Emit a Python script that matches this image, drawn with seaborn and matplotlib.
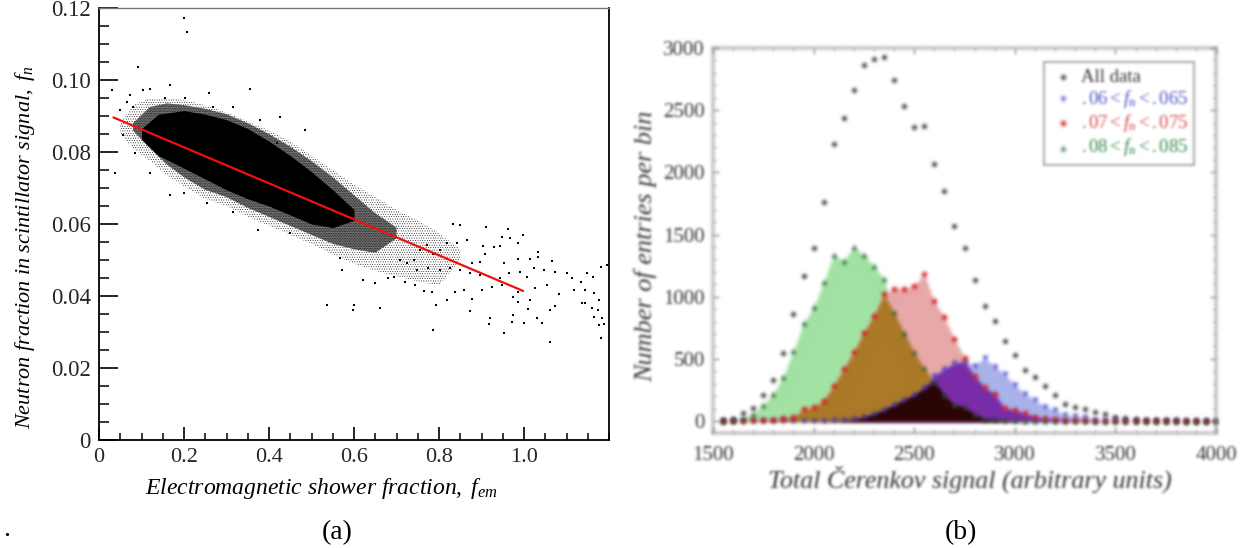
import numpy as np
import seaborn as sns
import matplotlib
matplotlib.use("Agg")
import matplotlib.pyplot as plt
from matplotlib.ticker import MultipleLocator, FixedLocator

sns.set_theme(style="white")
plt.rcParams["font.family"] = ["Liberation Serif", "DejaVu Serif"]
plt.rcParams["mathtext.fontset"] = "custom"
plt.rcParams["mathtext.rm"] = "Liberation Serif"
plt.rcParams["mathtext.it"] = "Liberation Serif:italic"
plt.rcParams["mathtext.bf"] = "Liberation Serif:bold"
plt.rcParams["hatch.linewidth"] = 0.3

# panel (a): the dense cloud read as envelopes, the loose points one by one
sparse_x = [0.05, 0.08, 0.12, 0.16, 0.20, 0.25, 0.30, 0.35, 0.40, 0.45, 0.50, 0.55, 0.60, 0.65, 0.70, 0.75, 0.80, 0.85]
sparse_hi = [0.0880, 0.0930, 0.0950, 0.0950, 0.0945, 0.0930, 0.0910, 0.0885, 0.0860, 0.0830, 0.0790, 0.0750, 0.0710, 0.0675, 0.0640, 0.0610, 0.0575, 0.0530]
sparse_lo = [0.0850, 0.0810, 0.0775, 0.0735, 0.0705, 0.0670, 0.0650, 0.0620, 0.0595, 0.0570, 0.0545, 0.0515, 0.0490, 0.0470, 0.0455, 0.0440, 0.0430, 0.0500]
dense_x = [0.08, 0.12, 0.16, 0.20, 0.25, 0.30, 0.35, 0.40, 0.45, 0.50, 0.55, 0.60, 0.65, 0.70]
dense_hi = [0.0880, 0.0925, 0.0935, 0.0930, 0.0920, 0.0905, 0.0880, 0.0850, 0.0815, 0.0775, 0.0730, 0.0680, 0.0630, 0.0590]
dense_lo = [0.0860, 0.0810, 0.0765, 0.0730, 0.0695, 0.0675, 0.0645, 0.0620, 0.0595, 0.0570, 0.0545, 0.0530, 0.0520, 0.0560]
core_x = [0.10, 0.14, 0.20, 0.25, 0.30, 0.35, 0.40, 0.45, 0.50, 0.55, 0.60]
core_hi = [0.0865, 0.0905, 0.0915, 0.0905, 0.0890, 0.0865, 0.0830, 0.0790, 0.0745, 0.0695, 0.0640]
core_lo = [0.0835, 0.0790, 0.0755, 0.0725, 0.0695, 0.0670, 0.0650, 0.0625, 0.0600, 0.0590, 0.0610]

loose_x = [0.834, 0.850, 0.911, 0.962, 0.997, 0.948, 0.968, 0.987, 0.903, 0.944, 0.929, 0.909, 1.032, 1.032, 1.015, 1.066,
           0.985, 0.952, 0.897, 0.878, 0.842, 0.866, 0.819, 0.803, 0.787, 0.772, 0.756, 0.740, 0.725, 0.709, 0.748, 0.775,
           0.803, 0.827, 0.850, 0.874, 0.897, 0.921, 0.944, 0.964, 0.991, 1.007, 1.023, 1.046, 1.074, 1.101, 1.148, 1.133,
           1.113, 1.163, 1.196, 1.180, 1.054, 1.027, 1.015, 0.987, 0.973, 0.948, 0.925, 0.901, 0.878, 0.858, 0.838, 0.819,
           0.794, 0.783, 0.764, 0.744, 0.721, 0.693, 0.681, 0.650, 0.622, 0.571, 0.568, 0.536, 0.597, 0.660, 0.785, 0.874,
           0.921, 0.917, 0.973, 0.972, 0.999, 0.954, 1.009, 1.062, 1.074, 1.042, 1.031, 1.062, 1.117, 1.144, 1.082, 1.164,
           1.176, 1.137, 1.144, 1.160, 1.173, 1.164, 1.184, 1.189, 1.176, 1.182, 0.985, 0.199, 0.207, 0.091, 0.167, 0.031,
           0.258, 0.356, 0.104, 0.120, 0.073, 0.203, 0.155, 0.081, 0.057, 0.038, 0.167, 0.375, 0.426, 0.485, 0.418, 0.085,
           0.120, 0.199, 0.254, 0.316, 0.450, 0.065, 0.050, 0.269, 0.316, 0.379, 0.600]
loose_y = [0.0600, 0.0597, 0.0592, 0.0585, 0.0569, 0.0565, 0.0560, 0.0546, 0.0539, 0.0539, 0.0535, 0.0518, 0.0523, 0.0509, 0.0503, 0.0498,
           0.0504, 0.0491, 0.0495, 0.0491, 0.0546, 0.0555, 0.0546, 0.0528, 0.0518, 0.0542, 0.0528, 0.0500, 0.0491, 0.0500, 0.0472, 0.0477,
           0.0472, 0.0477, 0.0472, 0.0463, 0.0458, 0.0454, 0.0449, 0.0463, 0.0467, 0.0454, 0.0477, 0.0472, 0.0467, 0.0465, 0.0463, 0.0440,
           0.0449, 0.0452, 0.0486, 0.0481, 0.0430, 0.0421, 0.0389, 0.0412, 0.0398, 0.0430, 0.0426, 0.0417, 0.0393, 0.0417, 0.0412, 0.0389,
           0.0375, 0.0412, 0.0415, 0.0430, 0.0440, 0.0454, 0.0449, 0.0435, 0.0444, 0.0472, 0.0505, 0.0375, 0.0361, 0.0366, 0.0305, 0.0358,
           0.0338, 0.0321, 0.0347, 0.0327, 0.0324, 0.0296, 0.0363, 0.0361, 0.0372, 0.0326, 0.0338, 0.0273, 0.0418, 0.0417, 0.0405, 0.0409,
           0.0389, 0.0380, 0.0381, 0.0368, 0.0361, 0.0342, 0.0338, 0.0322, 0.0319, 0.0284, 0.0384, 0.1171, 0.1134, 0.1037, 0.0986, 0.0972,
           0.0963, 0.0974, 0.0972, 0.0974, 0.0958, 0.0951, 0.0949, 0.0926, 0.0847, 0.0741, 0.0681, 0.0583, 0.0898, 0.0861, 0.0824, 0.0796,
           0.0741, 0.0685, 0.0657, 0.0634, 0.0574, 0.0940, 0.0917, 0.0926, 0.0926, 0.0889, 0.0375]

fit_x = [0.034, 0.998]
fit_y = [0.0896, 0.0414]

# panel (b): entries per 50-unit bin, first bin at 1550
first_bin, last_bin, bin_step = 1550, 4000, 50
all_counts = [5, 13, 62, 102, 210, 330, 545, 860, 1163, 1390, 1758, 2230, 2434, 2663, 2865, 2914, 2927, 2739, 2531, 2367,
              2375, 2071, 1847, 1567, 1390, 1137, 927, 808, 645, 532, 411, 357, 282, 212, 137, 115, 97, 75, 56, 35,
              25, 18, 12, 10, 6, 5, 4, 3, 2, 1]
green_counts = [3, 10, 25, 60, 130, 218, 358, 567, 785, 914, 1116, 1336, 1288, 1398, 1336, 1245, 1143, 874, 712, 554,
                425, 317, 210, 129, 116, 54, 20, 15, 8, 5, 3, 2, 1, 1, 1, 0, 1, 0, 0, 1,
                0, 0, 1, 0, 0, 0, 1, 0, 0, 0]
red_counts = [1, 2, 4, 6, 10, 12, 25, 30, 94, 110, 164, 282, 419, 556, 712, 847, 1021, 1064, 1064, 1089,
              1183, 962, 836, 658, 511, 365, 271, 218, 102, 89, 62, 35, 22, 18, 12, 10, 8, 4, 2, 1,
              1, 1, 0, 1, 0, 1, 0, 0, 1, 0]
blue_counts = [0, 0, 0, 0, 0, 0, 0, 1, 1, 2, 3, 5, 8, 15, 30, 56, 89, 129, 169, 210,
               263, 365, 419, 465, 478, 446, 505, 438, 376, 290, 218, 169, 116, 89, 48, 40, 30, 12, 8, 5,
               3, 2, 2, 1, 1, 1, 0, 1, 0, 0]
legend_labels = ["All data", r"$.06 < f_{\mathrm{n}} < .065$", r"$.07 < f_{\mathrm{n}} < .075$", r"$.08 < f_{\mathrm{n}} < .085$"]


def blur(img, dpi, sigma=1.25, pad=6):
    # soft focus for panel (b), it is a blurry scan in the original
    ny, nx = img.shape[:2]
    out = np.zeros((ny + 2 * pad, nx + 2 * pad, 4))
    out[pad:-pad, pad:-pad] = img
    out[..., :3] *= out[..., 3:]
    r = np.arange(-pad, pad + 1)
    k = np.exp(-0.5 * (r / sigma) ** 2)
    k = k / k.sum()
    for axis in (0, 1):
        out = sum(w * np.roll(out, s, axis=axis) for w, s in zip(k, r))
    a = np.maximum(out[..., 3:], 1e-4)
    out[..., :3] = np.clip(out[..., :3] / a, 0, 1)
    return out, -pad, -pad


W, H = 1249, 548
fig = plt.figure(figsize=(W / 100, H / 100), dpi=100)

# (a)
ax = fig.add_axes([99 / W, (H - 440) / H, 510 / W, 432 / H])
ax.fill_between(sparse_x, sparse_lo, sparse_hi, facecolor="none", edgecolor="black", hatch=".......", lw=0)
ax.fill_between(dense_x, dense_lo, dense_hi, facecolor="#6e6e6e", edgecolor="black", hatch="..........", lw=0)
ax.fill_between(core_x, core_lo, core_hi, color="black", lw=0)
sns.scatterplot(x=loose_x, y=loose_y, color="black", marker="s", s=0.9, linewidth=0, ax=ax)
sns.lineplot(x=fit_x, y=fit_y, color="#f01010", lw=1.6, ax=ax)
ax.set_xlim(0, 1.2)
ax.set_ylim(0, 0.12)
ax.xaxis.set_major_locator(FixedLocator([0, 0.2, 0.4, 0.6, 0.8, 1.0]))
ax.xaxis.set_minor_locator(MultipleLocator(0.05))
ax.yaxis.set_major_locator(MultipleLocator(0.02))
ax.yaxis.set_minor_locator(MultipleLocator(0.005))
ax.set_xticklabels(["0", "0.2", "0.4", "0.6", "0.8", "1.0"])
ax.set_yticks([0, 0.02, 0.04, 0.06, 0.08, 0.10, 0.12])
ax.set_yticklabels(["0", "0.02", "0.04", "0.06", "0.08", "0.10", "0.12"])
ax.tick_params(axis="x", which="major", direction="in", length=9.5, width=1.2, color="black", labelsize=16, pad=6, bottom=True)
ax.tick_params(axis="x", which="minor", direction="in", length=5, width=1.1, color="black", bottom=True)
ax.tick_params(axis="y", which="major", direction="in", length=14, width=1.2, color="black", labelsize=16.5, pad=6, left=True)
ax.tick_params(axis="y", which="minor", direction="in", length=7.5, width=1.1, color="black", left=True)
for side in ["left", "bottom", "right"]:
    ax.spines[side].set_color("black")
    ax.spines[side].set_linewidth(1.3)
ax.spines["top"].set_color("#777777")
ax.spines["top"].set_linewidth(1.0)
ax.set_xlabel(r"$\mathit{Electromagnetic\ shower\ fraction,\ f_{em}}$", fontsize=17, labelpad=6, color="black", x=0.437)
ax.set_ylabel(r"$\mathit{Neutron\ fraction\ in\ scintillator\ signal,\ f_{n}}$", fontsize=16, labelpad=10, color="black", y=0.446)

# (b)
bx = fig.add_axes([713 / W, (H - 433) / H, 503 / W, 385 / H])
bins = np.arange(first_bin, last_bin + 1, bin_step)
g = np.array(green_counts)
r = np.array(red_counts)
b = np.array(blue_counts)
bx.fill_between(bins, 0, g, color="#a2e2a2", lw=0)
bx.fill_between(bins, 0, r, color="#e8a8a8", lw=0)
bx.fill_between(bins, 0, b, color="#aab2ea", lw=0)
bx.fill_between(bins, 0, np.minimum(g, r), color="#ab7a28", lw=0)
bx.fill_between(bins, 0, np.minimum(r, b), color="#7a2ca8", lw=0)
bx.fill_between(bins, 0, np.minimum(g, b), color="#2c0606", lw=0)
sns.scatterplot(x=bins, y=all_counts, color="#111111", marker="o", s=11, linewidth=0, label=legend_labels[0], ax=bx)
sns.scatterplot(x=bins, y=blue_counts, color="#2a34c8", marker="v", s=15, linewidth=0, label=legend_labels[1], ax=bx)
sns.scatterplot(x=bins, y=red_counts, color="#d81c1c", marker="o", s=15, linewidth=0, label=legend_labels[2], ax=bx)
sns.scatterplot(x=bins, y=green_counts, color="#145c26", marker="^", s=15, linewidth=0, label=legend_labels[3], ax=bx)
bx.set_xlim(1500, 4000)
bx.set_ylim(-96, 3000)
bx.xaxis.set_major_locator(MultipleLocator(500))
bx.xaxis.set_minor_locator(MultipleLocator(100))
bx.yaxis.set_major_locator(MultipleLocator(500))
bx.yaxis.set_minor_locator(MultipleLocator(100))
bx.tick_params(which="major", direction="in", length=4, width=0.9, color="#888888", labelsize=15, labelcolor="#333333",
               bottom=True, top=True, left=True, right=True)
bx.tick_params(axis="x", which="major", pad=9)
bx.tick_params(axis="y", which="major", pad=6)
bx.tick_params(which="minor", direction="in", length=2, width=0.7, color="#999999", bottom=True, top=True, left=True, right=True)
for spine in bx.spines.values():
    spine.set_color("#999999")
    spine.set_linewidth(1.5)
bx.set_xlabel("Total Čerenkov signal (arbitrary units)", fontstyle="italic", fontsize=18.6, color="#333333", labelpad=1, x=0.51)
bx.set_ylabel("Number of entries per bin", fontstyle="italic", fontsize=18.9, color="#333333", labelpad=4, y=0.484)
leg = bx.legend(loc="upper left", bbox_to_anchor=((1044 - 713) / 503, (433 - 62) / 385), fontsize=13.5, frameon=True,
                fancybox=False, edgecolor="#999999", framealpha=1, labelspacing=0.12, handletextpad=0.3, handlelength=1.3,
                borderaxespad=0, borderpad=0.35, markerscale=1,
                labelcolor=["#333333", "#4a52c8", "#d04848", "#2e8a44"])
leg.get_frame().set_linewidth(1.2)
for art in bx.findobj(lambda a: not a.get_children() and a is not bx):
    art.set_agg_filter(blur)

fig.text(337 / W, 1 - 533 / H, "(a)", fontsize=20, ha="center", va="center", color="black")
fig.text(961 / W, 1 - 533 / H, "(b)", fontsize=20, ha="center", va="center", color="black")
fig.text(7 / W, 1 - 530 / H, ".", fontsize=20, ha="center", va="center", color="black")

fig.savefig("out.png", dpi=100, facecolor="white")
